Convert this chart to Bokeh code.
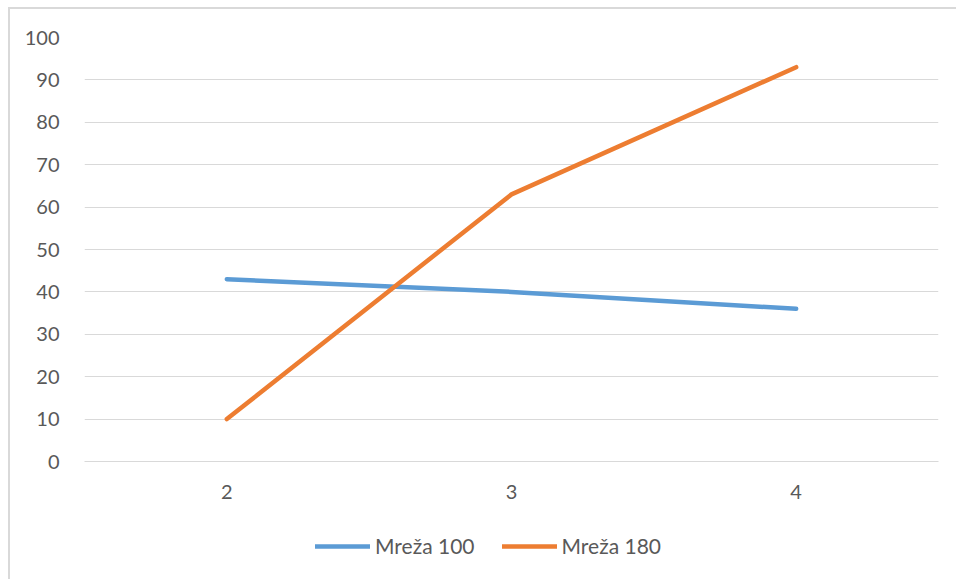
from bokeh.plotting import figure
from bokeh.layouts import column
from bokeh.models import FactorRange, Range1d, Legend, LegendItem, FixedTicker
from bokeh.embed import file_html
from bokeh.resources import INLINE

categories = ["2", "3", "4"]
mreza_100 = [43, 40, 36]
mreza_180 = [10, 63, 93]
y_ticks = [0, 10, 20, 30, 40, 50, 60, 70, 80, 90, 100]
series_names = ["Mreža 100", "Mreža 180"]
series_colors = ["#5B9BD5", "#ED7D31"]

FONT = "Lato"
TXT = "#595959"
GRID = "#d9d9d9"

p = figure(frame_width=854, frame_height=424, x_range=FactorRange(*categories, range_padding=0),
           y_range=Range1d(0, 100), output_backend="svg", toolbar_location=None,
           min_border_left=74, min_border_right=18, min_border_top=28, min_border_bottom=50)
p.outline_line_color = None

p.line(categories, mreza_100, line_color=series_colors[0], line_width=4.5, line_cap="round", line_join="round")
p.line(categories, mreza_180, line_color=series_colors[1], line_width=4.5, line_cap="round", line_join="round")

p.yaxis.ticker = FixedTicker(ticks=y_ticks)
p.yaxis.axis_line_color = None
p.yaxis.major_tick_line_color = None
p.yaxis.minor_tick_line_color = None
p.yaxis.major_label_standoff = 19
p.xaxis.axis_line_color = GRID
p.xaxis.major_tick_line_color = None
p.xaxis.minor_tick_line_color = None
p.xaxis.major_label_standoff = 17
for ax in (p.xaxis, p.yaxis):
    ax.major_label_text_font = FONT
    ax.major_label_text_font_size = "20px"
    ax.major_label_text_color = TXT

p.ygrid.grid_line_color = GRID
p.ygrid.grid_line_width = 1
p.xgrid.grid_line_color = None

# legend strip
lg = figure(width=946, height=68, x_range=Range1d(0, 1), y_range=Range1d(0, 1),
            x_axis_type=None, y_axis_type=None, output_backend="svg", toolbar_location=None,
            min_border=0)
lg.outline_line_color = None
lg.grid.visible = False
items = []
for name, col in zip(series_names, series_colors):
    r = lg.line([float("nan")], [float("nan")], line_color=col, line_width=4.5, line_cap="round")
    items.append(LegendItem(label=name, renderers=[r]))
legend = Legend(items=items, orientation="horizontal", location=(231, 21),
                label_text_font=FONT, label_text_font_size="21px", label_text_color=TXT,
                glyph_width=55, glyph_height=20, label_standoff=5, spacing=27,
                border_line_color=None, background_fill_alpha=0, margin=0, padding=0)
lg.add_layout(legend, "center")

layout = column(p, lg, spacing=0)
layout.margin = (7, 0, 0, 8)
layout.styles = {"border-left": "2px solid #d9d9d9", "border-top": "2px solid #d9d9d9"}

open("out.html", "w").write(file_html(layout, INLINE))
